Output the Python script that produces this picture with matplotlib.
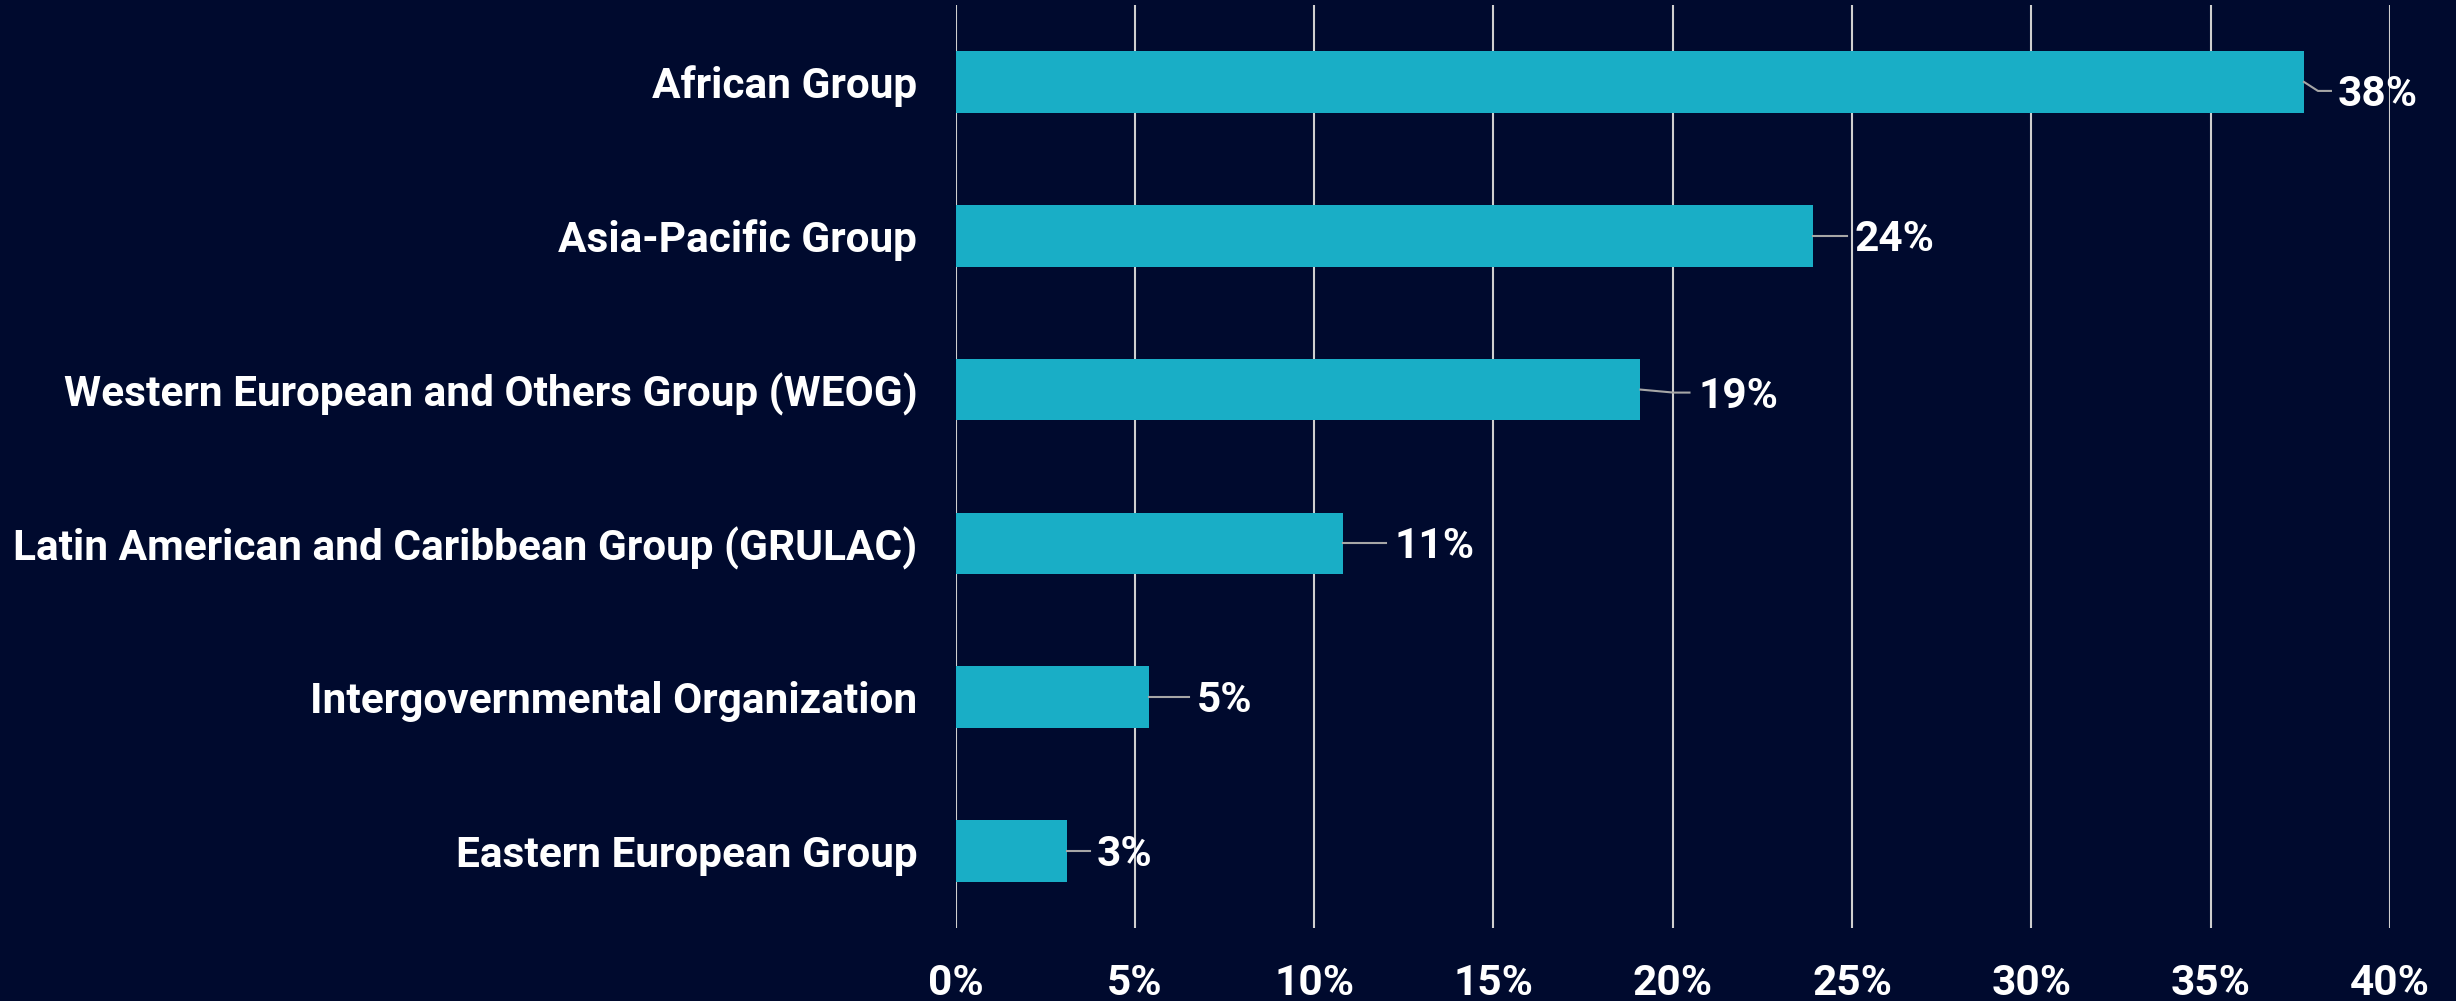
import matplotlib
matplotlib.use("Agg")
import matplotlib.pyplot as plt
from matplotlib.lines import Line2D
from matplotlib.transforms import Affine2D

# ---- data ----
categories = [
    "African Group",
    "Asia-Pacific Group",
    "Western European and Others Group (WEOG)",
    "Latin American and Caribbean Group (GRULAC)",
    "Intergovernmental Organization",
    "Eastern European Group",
]
values = [37.6, 23.9, 19.1, 10.8, 5.4, 3.1]
value_labels = ["38%", "24%", "19%", "11%", "5%", "3%"]
xticks = [0, 5, 10, 15, 20, 25, 30, 35, 40]
xtick_labels = ["0%", "5%", "10%", "15%", "20%", "25%", "30%", "35%", "40%"]

# ---- style (leader shapes in pixel offsets from bar end) ----
leaders = [
    [(0, 0), (14, -9), (27, -9)],
    [(0, 0), (34, 0)],
    [(0, 0), (33, -3), (49, -3)],
    [(0, 0), (43, 0)],
    [(0, 0), (40, 0)],
    [(0, 0), (23, 0)],
]
label_offsets = [(34, -9), (42, 0), (58, -3.5), (52, 0), (48, 0), (30, 0)]

BG = "#000a2e"
BAR = "#19aec6"
GRID = "#cfcfcf"
LEADER = "#a6a6a6"
FONT = "Roboto"
FS = 30.5

plt.rcParams["font.family"] = [FONT, "DejaVu Sans"]

W, H = 2456, 1001
fig = plt.figure(figsize=(W / 100, H / 100), dpi=100, facecolor=BG)
ax_l, ax_r = 955.5 / W, 2390 / W
ax_b, ax_t = (H - 928) / H, (H - 5) / H
ax = fig.add_axes([ax_l, ax_b, ax_r - ax_l, ax_t - ax_b])
ax.set_facecolor(BG)

ypos = list(range(len(categories)))
ax.barh(ypos, values, height=0.4, color=BAR, zorder=3)
ax.set_xlim(0, 40)
ax.set_ylim(len(categories) - 0.5, -0.5)

ax.set_xticks(xticks)
ax.set_xticklabels(xtick_labels)
ax.set_yticks(ypos)
ax.set_yticklabels(categories)
for lab in ax.get_xticklabels() + ax.get_yticklabels():
    lab.set_fontweight("bold")
    lab.set_fontsize(FS)
    lab.set_color("white")
ax.tick_params(axis="x", length=0, pad=25.5)
ax.tick_params(axis="y", length=0, pad=27.5)

ax.grid(axis="x", color=GRID, linewidth=1.5, zorder=0)
ax.grid(axis="y", visible=False)
for s in ax.spines.values():
    s.set_visible(False)

cap = 0.711 * FS * 100 / 72  # cap height in px
for i, (v, lab) in enumerate(zip(values, value_labels)):
    bx, by = ax.transData.transform((v, i))
    pts = leaders[i]
    xs = [p[0] for p in pts]
    ys = [p[1] for p in pts]
    ln = Line2D(xs, ys, color=LEADER, linewidth=1.5,
                transform=Affine2D().translate(bx, by), clip_on=False, zorder=4)
    fig.add_artist(ln)
    dx, dy = label_offsets[i]
    fig.text(bx + dx, by + dy - cap / 2, lab, transform=Affine2D(),
             ha="left", va="baseline", fontsize=FS, fontweight="bold",
             color="white", zorder=5)

fig.savefig("out.png", dpi=100, facecolor=BG)
